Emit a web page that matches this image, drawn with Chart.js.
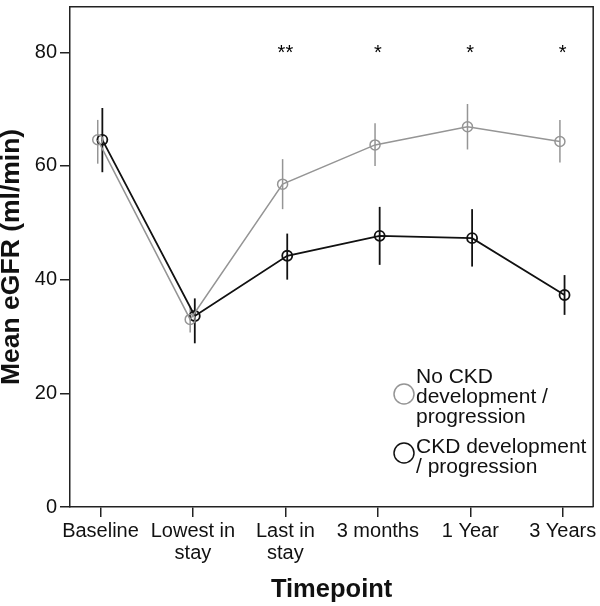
<!DOCTYPE html>
<html>
<head>
<meta charset="utf-8">
<script src="https://cdn.jsdelivr.net/npm/chart.js@4.4.0/dist/chart.umd.min.js"></script>
<style>
  html, body { margin: 0; padding: 0; background: #fff; }
  #wrap { width: 600px; height: 606px; }
</style>
</head>
<body>
<div id="wrap"><canvas id="egfr-chart"></canvas></div>
<script>
const timepoints = [['Baseline'], ['Lowest in', 'stay'], ['Last in', 'stay'], ['3 months'], ['1 Year'], ['3 Years']];

// No CKD development / progression
const noCkdMean = [64.6, 33.0, 56.8, 63.7, 66.9, 64.3];
const noCkdLow  = [60.4, 30.7, 52.4, 60.0, 62.9, 60.6];
const noCkdHigh = [68.1, 35.2, 61.2, 67.5, 70.9, 68.1];

// CKD development / progression
const ckdMean = [64.6, 33.6, 44.2, 47.7, 47.3, 37.3];
const ckdLow  = [58.9, 28.8, 40.0, 42.6, 42.3, 33.8];
const ckdHigh = [70.2, 36.7, 48.1, 52.8, 52.4, 40.8];

const significance = ['', '', '**', '*', '*', '*'];
const yTicks = [0, 20, 40, 60, 80];

const GREY = '#959595';
const BLACK = '#111';
const FONT = '"Liberation Sans", Arial, sans-serif';

const groups = [
  { label: ['No CKD', 'development /', 'progression'], mean: noCkdMean, low: noCkdLow, high: noCkdHigh, color: GREY, width: 1.5, dodge: -0.03 },
  { label: ['CKD development', '/ progression'], mean: ckdMean, low: ckdLow, high: ckdHigh, color: BLACK, width: 1.8, dodge: 0.02 }
];

const errorBars = {
  id: 'errorBars',
  beforeDatasetsDraw(chart) {
    const { ctx, scales: { x, y } } = chart;
    ctx.save();
    groups.forEach(g => {
      ctx.strokeStyle = g.color;
      ctx.lineWidth = g.width;
      g.mean.forEach((m, i) => {
        const px = x.getPixelForValue(i + g.dodge);
        ctx.beginPath();
        ctx.moveTo(px, y.getPixelForValue(g.low[i]));
        ctx.lineTo(px, y.getPixelForValue(g.high[i]));
        ctx.stroke();
      });
    });
    ctx.restore();
  }
};

const extras = {
  id: 'extras',
  afterDraw(chart) {
    const { ctx, chartArea: a, scales: { x, y } } = chart;
    ctx.save();
    // frame top + right
    ctx.strokeStyle = '#222';
    ctx.lineWidth = 1.5;
    ctx.beginPath();
    ctx.moveTo(a.left, a.top);
    ctx.lineTo(a.right, a.top);
    ctx.lineTo(a.right, a.bottom);
    ctx.stroke();

    // significance stars
    ctx.fillStyle = '#000';
    ctx.font = '20px ' + FONT;
    ctx.textAlign = 'center';
    ctx.textBaseline = 'middle';
    significance.forEach((s, i) => {
      if (s) ctx.fillText(s, x.getPixelForValue(i), y.getPixelForValue(80) + 1);
    });

    // legend
    const lx = 404, tx = 416;
    ctx.font = '21px ' + FONT;
    ctx.textAlign = 'left';
    const legendPos = [{ cy: 394, top: 377 }, { cy: 453, top: 447 }];
    groups.forEach((g, k) => {
      ctx.strokeStyle = g.color;
      ctx.lineWidth = 1.5;
      ctx.beginPath();
      ctx.arc(lx, legendPos[k].cy, 10, 0, Math.PI * 2);
      ctx.stroke();
      ctx.fillStyle = '#111';
      g.label.forEach((line, j) => ctx.fillText(line, tx, legendPos[k].top + j * 20));
    });
    ctx.restore();
  }
};

const ctx = document.getElementById('egfr-chart').getContext('2d');
const chart = new Chart(ctx, {
  type: 'line',
  data: {
    datasets: groups.map(g => ({
      label: g.label.join(' '),
      data: g.mean.map((m, i) => ({ x: i + g.dodge, y: m })),
      borderColor: g.color,
      borderWidth: g.width,
      pointRadius: 5,
      pointBorderWidth: g.width,
      pointBorderColor: g.color,
      pointBackgroundColor: 'rgba(0,0,0,0)',
      tension: 0
    }))
  },
  options: {
    responsive: true,
    maintainAspectRatio: false,
    animation: false,
    layout: { padding: { top: 2, right: 5, left: 0, bottom: 0 } },
    plugins: { legend: { display: false }, tooltip: { enabled: false } },
    scales: {
      x: {
        type: 'linear',
        min: -0.33,
        max: 5.33,
        afterBuildTicks: axis => { axis.ticks = timepoints.map((t, i) => ({ value: i })); },
        afterFit: axis => { axis.height = 99; axis.paddingLeft = 0; axis.paddingRight = 0; },
        ticks: {
          autoSkip: false,
          maxRotation: 0,
          padding: 3,
          color: '#111',
          font: { family: FONT, size: 20, lineHeight: 1.1 },
          callback: v => timepoints[v]
        },
        grid: { drawOnChartArea: false, drawTicks: true, tickLength: 10, color: '#222', lineWidth: 1.5 },
        border: { display: true, color: '#222', width: 1.5 },
        title: { display: true, text: 'Timepoint', color: '#111', padding: { top: 0, bottom: 1 }, font: { family: FONT, size: 25.5, weight: 'bold' } }
      },
      y: {
        min: 0,
        max: 88,
        afterBuildTicks: axis => { axis.ticks = yTicks.map(v => ({ value: v })); },
        afterFit: axis => { axis.width = 70; axis.paddingTop = 0; axis.paddingBottom = 0; },
        ticks: { padding: 3, color: '#111', font: { family: FONT, size: 20 } },
        grid: { drawOnChartArea: false, drawTicks: true, tickLength: 10, color: '#222', lineWidth: 1.5 },
        border: { display: true, color: '#222', width: 1.5 },
        title: { display: true, text: 'Mean eGFR (ml/min)', color: '#111', padding: 0, font: { family: FONT, size: 26.5, weight: 'bold', lineHeight: 0.9 } }
      }
    }
  },
  plugins: [errorBars, extras]
});
</script>
</body>
</html>
